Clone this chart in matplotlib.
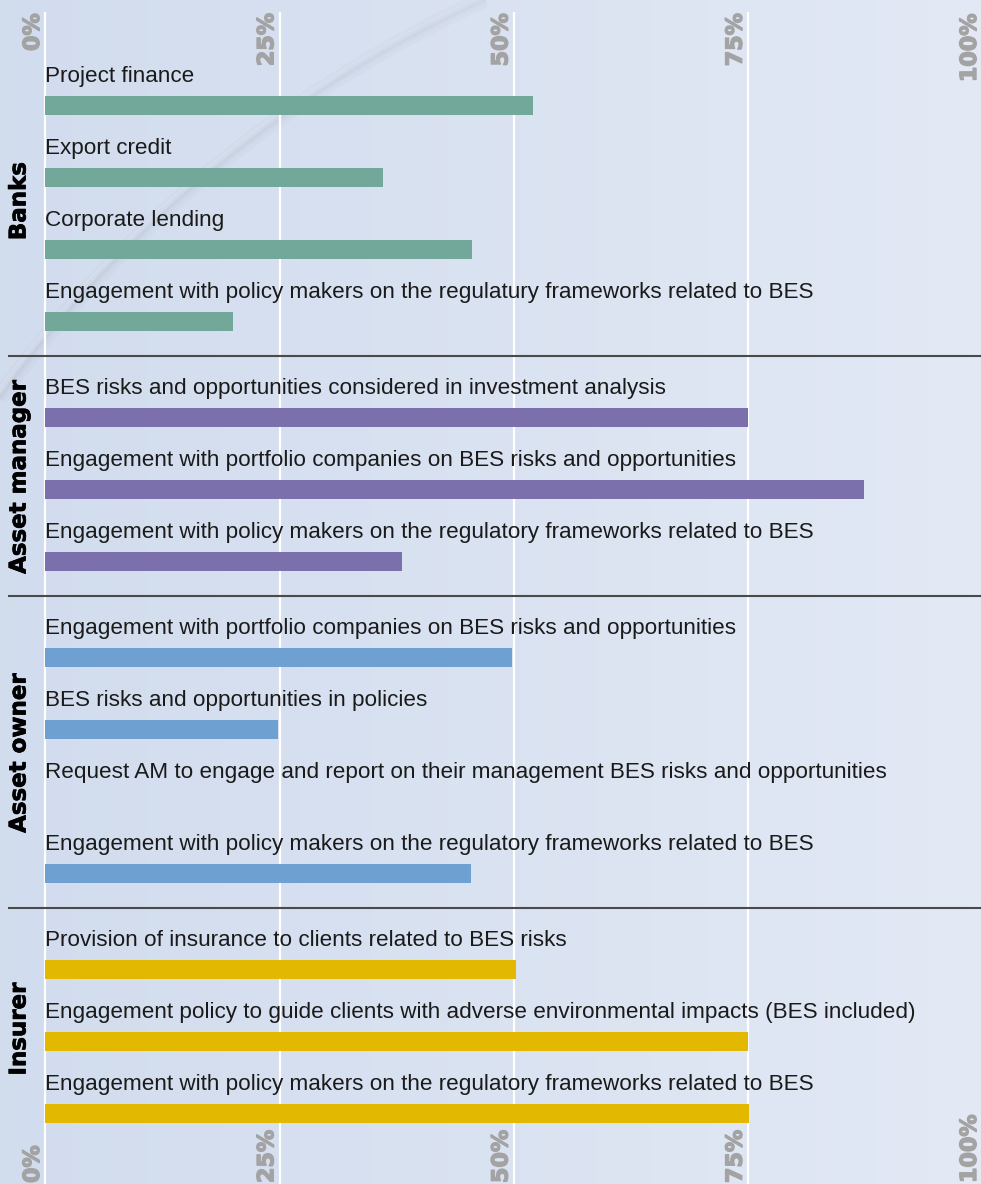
import numpy as np
import matplotlib
matplotlib.use("Agg")
import matplotlib.pyplot as plt
import matplotlib.patheffects as pe

# ---- data -------------------------------------------------------------
groups = ["Banks", "Asset manager", "Asset owner", "Insurer"]

banks_labels = [
    "Project finance",
    "Export credit",
    "Corporate lending",
    "Engagement with policy makers on the regulatury frameworks related to BES",
]
banks_values = [52, 36, 45.5, 20]

am_labels = [
    "BES risks and opportunities considered in investment analysis",
    "Engagement with portfolio companies on BES risks and opportunities",
    "Engagement with policy makers on the regulatory frameworks related to BES",
]
am_values = [75, 87.4, 38]

ao_labels = [
    "Engagement with portfolio companies on BES risks and opportunities",
    "BES risks and opportunities in policies",
    "Request AM to engage and report on their management BES risks and opportunities",
    "Engagement with policy makers on the regulatory frameworks related to BES",
]
ao_values = [49.8, 24.8, 0, 45.4]

ins_labels = [
    "Provision of insurance to clients related to BES risks",
    "Engagement policy to guide clients with adverse environmental impacts (BES included)",
    "Engagement with policy makers on the regulatory frameworks related to BES",
]
ins_values = [50.2, 75, 75.1]

group_labels = [banks_labels, am_labels, ao_labels, ins_labels]
group_values = [banks_values, am_values, ao_values, ins_values]
group_colors = ["#72a89a", "#7b6fac", "#6fa0d2", "#e2b900"]

ticks = [0, 25, 50, 75, 100]
tick_labels = ["0%", "25%", "50%", "75%", "100%"]

# ---- layout -------------------------------------------------------------
W, H = 981, 1184
fig = plt.figure(figsize=(W / 100, H / 100), dpi=100)
ax = fig.add_axes([0, 0, 1, 1])

x0_px, px_per_pct = 45.5, 9.37
row_px, first_px = 72, 105.5
x_left = -x0_px / px_per_pct
x_right = (W - x0_px) / px_per_pct
y_top = -first_px / row_px
y_bot = (H - first_px) / row_px
ax.set_xlim(x_left, x_right)
ax.set_ylim(y_bot, y_top)
ax.axis("off")

# background gradient
grad = np.linspace(0, 1, 256)[None, :]
c1 = np.array([0.820, 0.863, 0.933])
c2 = np.array([0.890, 0.914, 0.961])
bg = c1 + (c2 - c1) * grad[..., None]
ax.imshow(bg, extent=[x_left, x_right, y_bot, y_top], aspect="auto", zorder=0)

# decorative swoosh (soft shadow band)
theta = np.linspace(np.pi * 1.05, np.pi * 1.45, 300)
cx, cy, r = 993.5, 1113.5, 1225
sx = (cx + r * np.cos(theta)) / W
sy = 1 - (cy + r * np.sin(theta)) / H
for lw, a in [(12, 0.035), (6, 0.045), (2.5, 0.06)]:
    ax.plot(sx, sy, color="#7c8496", lw=lw, alpha=a, transform=fig.transFigure,
            zorder=0.5, solid_capstyle="butt")
ax.plot(sx - 5 / W, sy, color="white", lw=4, alpha=0.12, transform=fig.transFigure,
        zorder=0.5)

# gridlines
grid_top = (12 - first_px) / row_px
ax.vlines(ticks, y_bot, grid_top, color="white", lw=1.6, zorder=1)

# tick labels top and bottom
tick_font = dict(rotation=90, color="#a3a3a3", fontsize=16, fontweight="bold",
                 family="DejaVu Sans", ha="right",
                 path_effects=[pe.withStroke(linewidth=1.0, foreground="#a3a3a3")])
for t, lab in zip(ticks, tick_labels):
    xt = t - 2.5 / px_per_pct
    ax.text(xt, (13 - first_px) / row_px, lab, va="top", zorder=3, **tick_font)
    ax.text(xt, (H - 1 - first_px) / row_px, lab, va="bottom", zorder=3, **tick_font)

# bars
bar_h = 19 / row_px
pos = 0
for g, (name, labels, values, col) in enumerate(zip(groups, group_labels, group_values,
                                                     group_colors)):
    ys = [pos + i + g / 3 for i in range(len(labels))]
    ax.barh(ys, values, height=bar_h, left=0, color=col, zorder=2)
    for y, lab in zip(ys, labels):
        ax.text(0.0, y - 23.5 / row_px, lab, va="baseline", ha="left", fontsize=16.2,
                family="Liberation Sans", color="#1a1a1a", zorder=3)
    ax.text((19 - x0_px) / px_per_pct, np.mean(ys) - 0.17, name, rotation=90,
            ha="center", va="center", fontsize=16.5, fontweight="bold",
            family="DejaVu Sans", color="black", zorder=3,
            path_effects=[pe.withStroke(linewidth=0.5, foreground="black")])
    if g < len(groups) - 1:
        ax.hlines(ys[-1] + 34.5 / row_px, (8 - x0_px) / px_per_pct, x_right,
                  color="#4a4a4a", lw=1.5, zorder=3)
    pos += len(labels)

fig.savefig("out.png", dpi=100)
